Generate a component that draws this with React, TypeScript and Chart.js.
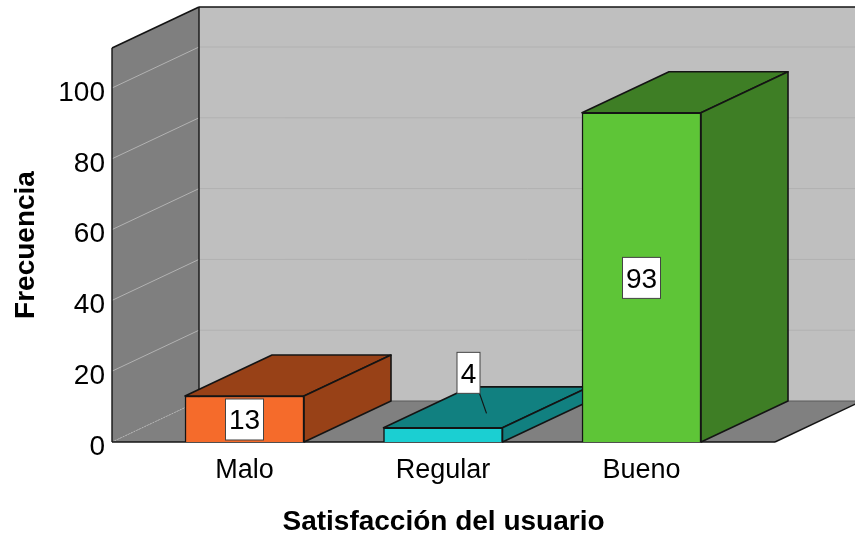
import { useEffect, useRef } from "react";
import { Chart, registerables } from "chart.js";

Chart.register(...registerables);

const categories = ["Malo", "Regular", "Bueno"];
const frequencies = [13, 4, 93];
const frontColors = ["#f56b2b", "#1bcfd2", "#5ec537"];
const sideColors = ["#984117", "#118080", "#3e7e25"];
const yTicks = [0, 20, 40, 60, 80, 100];
const xAxisTitle = "Satisfacción del usuario";
const yAxisTitle = "Frecuencia";

const FONT = '"Liberation Sans", Arial, sans-serif';
const DEPTH_X = 87;
const DEPTH_Y = 41;
const EDGE = "#141414";

type Pt = [number, number];

function polygon(ctx: CanvasRenderingContext2D, pts: Pt[], fill: string | null, stroke: string | null, lineWidth = 1.6) {
  ctx.beginPath();
  pts.forEach(([x, y], i) => (i ? ctx.lineTo(x, y) : ctx.moveTo(x, y)));
  ctx.closePath();
  if (fill) {
    ctx.fillStyle = fill;
    ctx.fill();
  }
  if (stroke) {
    ctx.strokeStyle = stroke;
    ctx.lineWidth = lineWidth;
    ctx.lineJoin = "round";
    ctx.stroke();
  }
}

function segment(ctx: CanvasRenderingContext2D, a: Pt, b: Pt, color: string, width: number, dash: number[] = []) {
  ctx.beginPath();
  ctx.setLineDash(dash);
  ctx.moveTo(a[0], a[1]);
  ctx.lineTo(b[0], b[1]);
  ctx.strokeStyle = color;
  ctx.lineWidth = width;
  ctx.stroke();
  ctx.setLineDash([]);
}

// Room behind the bars: floor, side wall and back wall with their value lines.
const roomPlugin = {
  id: "room",
  beforeDatasetsDraw(chart: any) {
    const { ctx, chartArea, scales } = chart;
    const { left, right, top, bottom } = chartArea;
    const canvasRight = chart.width + 10;
    ctx.save();
    polygon(ctx, [[left + DEPTH_X, top - DEPTH_Y], [canvasRight, top - DEPTH_Y], [canvasRight, bottom - DEPTH_Y], [left + DEPTH_X, bottom - DEPTH_Y]], "#bfbfbf", null);
    polygon(ctx, [[left, top], [left + DEPTH_X, top - DEPTH_Y], [left + DEPTH_X, bottom - DEPTH_Y], [left, bottom]], "#7f7f7f", null);
    polygon(ctx, [[left, bottom], [left + DEPTH_X, bottom - DEPTH_Y], [right + DEPTH_X, bottom - DEPTH_Y], [right, bottom]], "#808080", null);

    yTicks.forEach((value) => {
      const y = scales.y.getPixelForValue(value);
      if (value === 0) {
        segment(ctx, [left, y], [left + DEPTH_X, y - DEPTH_Y], "#b4b4b4", 1, [1.5, 1.5]);
        segment(ctx, [left + DEPTH_X, y - DEPTH_Y], [canvasRight, y - DEPTH_Y], "#5a5a5a", 1);
      } else {
        segment(ctx, [left, y], [left + DEPTH_X, y - DEPTH_Y], "#b2b2b2", 1);
        segment(ctx, [left + DEPTH_X, y - DEPTH_Y], [canvasRight, y - DEPTH_Y], "#b1b1b1", 1);
      }
    });

    segment(ctx, [left, top], [left + DEPTH_X, top - DEPTH_Y], EDGE, 1.6);
    segment(ctx, [left + DEPTH_X, top - DEPTH_Y], [canvasRight, top - DEPTH_Y], EDGE, 1.6);
    segment(ctx, [left, top], [left, bottom], EDGE, 1.4);
    segment(ctx, [left + DEPTH_X, top - DEPTH_Y], [left + DEPTH_X, bottom - DEPTH_Y], EDGE, 1.4);
    segment(ctx, [left, bottom], [right, bottom], EDGE, 1.4);
    segment(ctx, [right, bottom], [right + DEPTH_X, bottom - DEPTH_Y], EDGE, 1.4);

    // Top and side faces; the library paints the front faces over them.
    chart.getDatasetMeta(0).data.forEach((bar: any, i: number) => {
      const half = bar.width / 2;
      const x0 = bar.x - half;
      const x1 = bar.x + half;
      const y0 = bar.y;
      const y1 = bar.base;
      polygon(ctx, [[x0, y0], [x0 + DEPTH_X, y0 - DEPTH_Y], [x1 + DEPTH_X, y0 - DEPTH_Y], [x1, y0]], sideColors[i], EDGE);
      polygon(ctx, [[x1, y0], [x1 + DEPTH_X, y0 - DEPTH_Y], [x1 + DEPTH_X, y1 - DEPTH_Y], [x1, y1]], sideColors[i], EDGE);
    });
    ctx.restore();
  },
};

// Boxed value labels; the short bar's label sits above it with a leader line.
const valueBoxPlugin = {
  id: "valueBoxes",
  afterDatasetsDraw(chart: any) {
    const { ctx } = chart;
    const bars = chart.getDatasetMeta(0).data;
    ctx.save();
    frequencies.forEach((value, i) => {
      const bar = bars[i];
      const text = String(value);
      const lifted = value < 10;
      const cx = bar.x + (lifted ? 25.5 : 0);
      const cy = lifted ? bar.y - 55 : (bar.y + bar.base) / 2 + 0.5;
      ctx.font = `28px ${FONT}`;
      const w = lifted ? 23 : 38;
      const h = 41;
      if (lifted) {
        segment(ctx, [cx + 11, cy + h / 2], [cx + 18, cy + h / 2 + 20], EDGE, 1.2);
      }
      ctx.fillStyle = "#ffffff";
      ctx.fillRect(cx - w / 2, cy - h / 2, w, h);
      ctx.strokeStyle = "#444444";
      ctx.lineWidth = 1;
      ctx.strokeRect(cx - w / 2, cy - h / 2, w, h);
      ctx.fillStyle = "#000000";
      ctx.textAlign = "center";
      ctx.textBaseline = "middle";
      ctx.fillText(text, cx, cy + 2);
    });
    ctx.restore();
  },
};

export default function App() {
  const canvasRef = useRef<HTMLCanvasElement | null>(null);

  useEffect(() => {
    const canvas = canvasRef.current;
    if (!canvas) return;
    const chart = new Chart(canvas, {
      type: "bar",
      data: {
        datasets: [
          {
            data: frequencies.map((y, x) => ({ x, y })),
            backgroundColor: frontColors,
            borderColor: EDGE,
            borderWidth: 1.5,
            barThickness: 119,
          },
        ],
      },
      options: {
        responsive: false,
        animation: false,
        layout: { padding: { left: 0, right: 80, top: 48, bottom: 0 } },
        plugins: { legend: { display: false }, tooltip: { enabled: false } },
        scales: {
          x: {
            type: "linear",
            offset: false,
            min: -0.6675,
            max: 2.6725,
            grid: { display: false, drawTicks: false },
            border: { display: false },
            afterFit: (scale: any) => {
              scale.height = 95;
            },
            afterBuildTicks: (scale: any) => {
              scale.ticks = categories.map((_, value) => ({ value }));
            },
            ticks: {
              autoSkip: false,
              maxRotation: 0,
              padding: 12,
              color: "#000000",
              font: { family: FONT, size: 27 },
              callback: (value: any) => categories[value],
            },
            title: {
              display: true,
              text: xAxisTitle,
              color: "#000000",
              font: { family: FONT, size: 28, weight: "bold" },
              padding: { top: 12, bottom: -2 },
            },
          },
          y: {
            type: "linear",
            min: 0,
            max: 111.3,
            grid: { display: false, drawTicks: false },
            border: { display: false },
            afterFit: (scale: any) => {
              scale.width = 112;
            },
            afterBuildTicks: (scale: any) => {
              scale.ticks = yTicks.map((value) => ({ value }));
            },
            ticks: {
              padding: 7,
              labelOffset: 5,
              color: "#000000",
              font: { family: FONT, size: 28 },
            },
            title: {
              display: true,
              text: yAxisTitle,
              color: "#000000",
              font: { family: FONT, size: 28, weight: "bold" },
              padding: { top: 9, bottom: 0 },
            },
          },
        },
      },
      plugins: [roomPlugin, valueBoxPlugin],
    } as any);
    return () => chart.destroy();
  }, []);

  return (
    <canvas
      ref={canvasRef}
      width={855}
      height={537}
      style={{ position: "fixed", left: 0, top: 0, display: "block", background: "#ffffff" }}
    />
  );
}
